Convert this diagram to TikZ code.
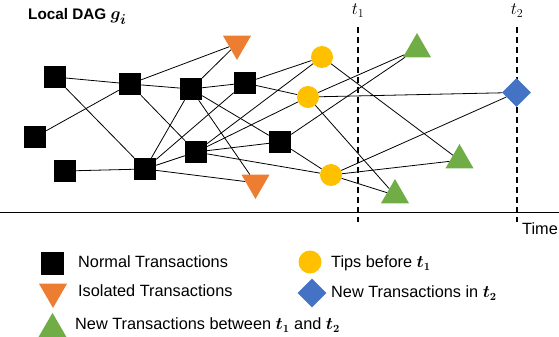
\documentclass[tikz,border=0pt]{standalone}
\usepackage{fontspec}
\usepackage{bm}
\setmainfont{Liberation Sans}
\usetikzlibrary{shapes.geometric}
\definecolor{tipyellow}{HTML}{FFC000}
\definecolor{isoorange}{HTML}{ED7D31}
\definecolor{newgreen}{HTML}{70AD47}
\definecolor{newblue}{HTML}{4472C4}
\begin{document}
\begin{tikzpicture}[x=1pt,y=1pt,
  sq/.style={fill=black,minimum size=22pt,inner sep=0},
  tipnode/.style={circle,fill=tipyellow,minimum size=22pt,inner sep=0},
  iso/.style={regular polygon,regular polygon sides=3,shape border rotate=180,fill=isoorange,minimum size=32.3pt,inner sep=0},
  newt/.style={regular polygon,regular polygon sides=3,fill=newgreen,minimum size=32.3pt,inner sep=0},
  newd/.style={diamond,fill=newblue,minimum width=29pt,minimum height=29pt,inner sep=0},
  link/.style={line width=0.8pt,black},
  timeline/.style={line width=2pt,dash pattern=on 6pt off 4pt},
  lbl/.style={inner sep=0,anchor=base west,font=\fontsize{16.3}{19}\selectfont}
]
\useasboundingbox (0,0) rectangle (559,337);

% title
\node[inner sep=0,anchor=base west,font=\bfseries\fontsize{15.3}{18}\selectfont] (title) at (28,317) {Local DAG {\fontsize{19}{22}\selectfont$\bm{g_i}$}};

% time axis
\coordinate (ax0) at (0,124);
\coordinate (ax1) at (559,124);
\draw[line width=1pt] (ax0) -- (ax1);
\coordinate (t1top) at (358,310);
\coordinate (t1bot) at (358,115);
\coordinate (t2top) at (517,310);
\coordinate (t2bot) at (517,115);
\draw[timeline] (t1top) -- (t1bot);
\draw[timeline] (t2top) -- (t2bot);
\node[inner sep=0,anchor=base,font=\fontsize{18}{21}\selectfont] (t1lbl) at (358,322) {$t_1$};
\node[inner sep=0,anchor=base,font=\fontsize{18}{21}\selectfont] (t2lbl) at (517,322) {$t_2$};
\node[lbl] (timelbl) at (522,102) {Time};

% nodes
\node[sq] (A) at (55,260) {};
\node[sq] (B) at (35,200) {};
\node[sq] (C) at (65,166) {};
\node[sq] (D) at (130,253) {};
\node[sq] (E) at (145,168) {};
\node[sq] (F) at (191,248) {};
\node[sq] (G) at (196,185) {};
\node[sq] (H) at (245,254) {};
\node[sq] (I) at (280,195) {};
\node[iso] (O1) at (237,293.2) {};
\node[iso] (O2) at (255.5,154.2) {};
\node[tipnode] (Y1) at (322,280) {};
\node[tipnode] (Y2) at (308,240) {};
\node[tipnode] (Y3) at (331,162) {};
\node[newt] (G1) at (417,287.8) {};
\node[newt] (G2) at (459.5,176.8) {};
\node[newt] (G3) at (395,141.8) {};
\node[newd] (DI) at (516.5,244.5) {};

% edges
\foreach \a/\b in {A/D,A/E,B/D,C/E,D/O1,D/F,D/G,E/F,E/H,E/G,E/O2,F/H,F/O1,F/O2,F/I,G/I,G/Y1,G/Y2,G/Y3,H/Y1,H/Y2,I/G1,I/Y3,Y1/G2,Y2/G1,Y2/G3,Y2/DI,Y3/DI,Y3/G2,Y3/G3}
  \draw[link] (\a) -- (\b);

% legend
\node[sq,minimum size=23pt] (Lsq) at (52,73) {};
\node[lbl] (Lsqt) at (78,69) {Normal Transactions};
\node[iso] (Liso) at (53,45.2) {};
\node[lbl] (Lisot) at (78,40) {Isolated Transactions};
\node[newt] (Lnew) at (52.5,8) {};
\node[lbl] (Lnewt) at (75,7) {New Transactions between $\bm{t_1}$ and $\bm{t_2}$};
\node[tipnode,minimum size=23pt] (Ltip) at (310,75) {};
\node[lbl] (Ltipt) at (331,69) {Tips before $\bm{t_1}$};
\node[newd] (Ldi) at (312,44) {};
\node[lbl] (Ldit) at (331,39) {New Transactions in $\bm{t_2}$};
\end{tikzpicture}
\end{document}
